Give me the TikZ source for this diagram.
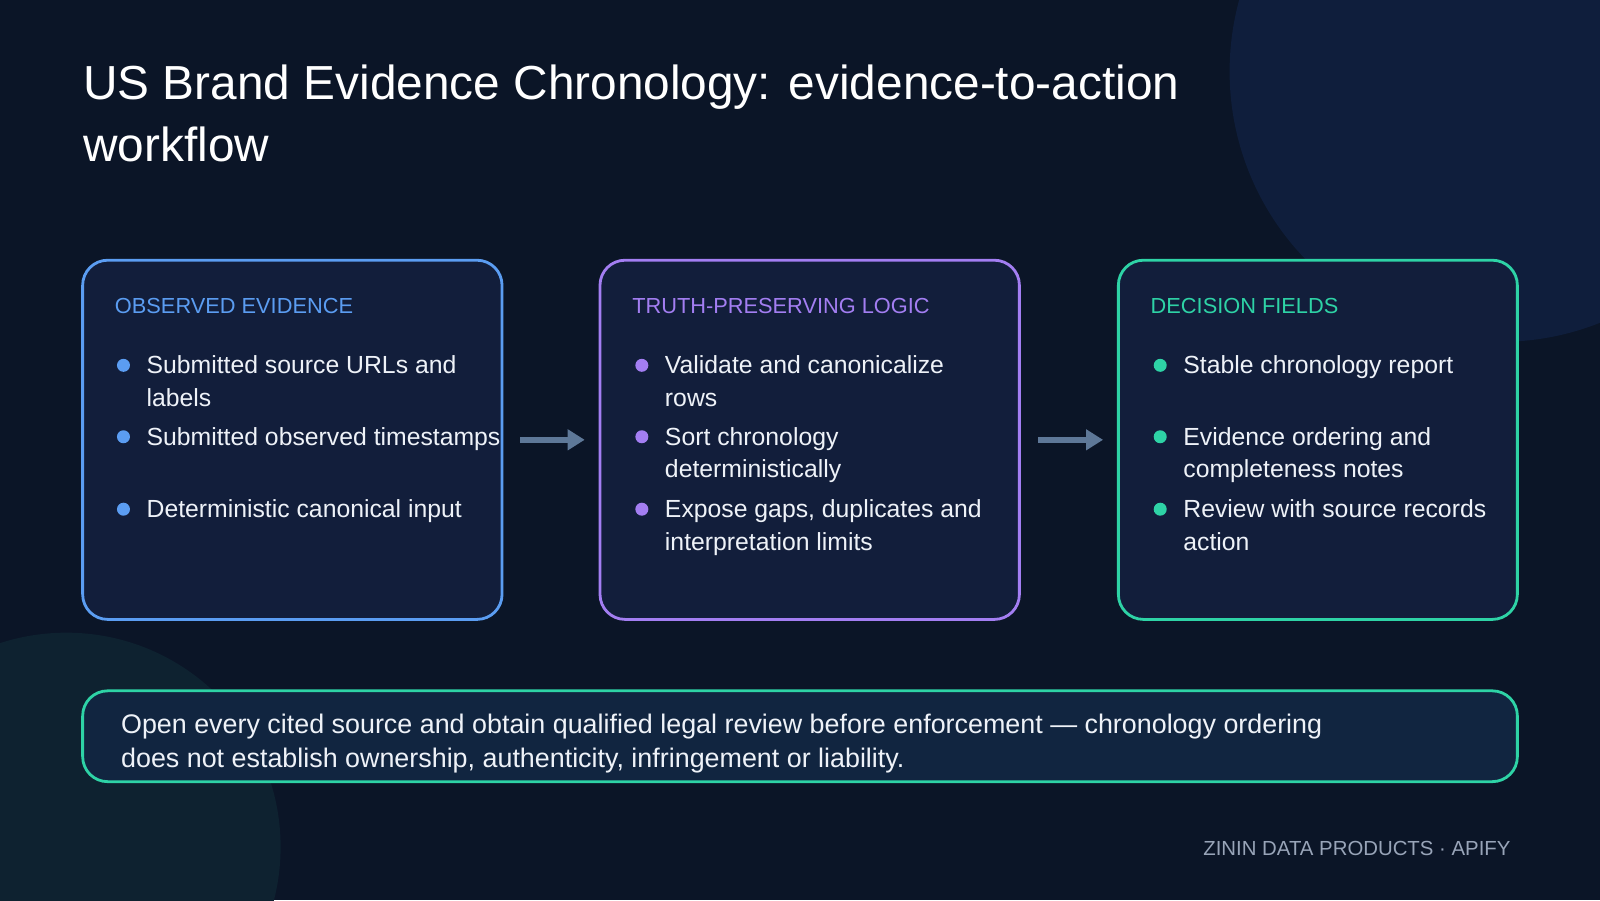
\documentclass[tikz,border=0pt]{standalone}
\usepackage{fontspec}
\setmainfont{Liberation Sans}
\usetikzlibrary{positioning,arrows.meta}
\definecolor{slatebg}{HTML}{0B1527}
\definecolor{slatebox}{HTML}{121E3B}
\definecolor{slateblue}{HTML}{5B9DF2}
\definecolor{slatepurple}{HTML}{A37EF2}
\definecolor{slateteal}{HTML}{2ED3A6}
\definecolor{slatetext}{HTML}{EEF2F8}
\definecolor{slatemuted}{HTML}{98A4B8}
\definecolor{slatearrow}{HTML}{5E7898}
\definecolor{slateglowA}{HTML}{0F1E3C}
\definecolor{slateglowB}{HTML}{0E2230}
\definecolor{slatenote}{HTML}{112540}
\tikzset{
  card/.style={line width=0.8pt, rounded corners=0.25cm, fill=slatebox},
  cardhead/.style={anchor=west, inner sep=0, font=\fontsize{6.2}{7.5}\selectfont},
  item/.style={anchor=north west, inner sep=0, align=left, text=slatetext, font=\fontsize{7.05}{9.3}\selectfont},
  dot/.style={circle, inner sep=0, minimum size=0.13cm},
  flow/.style={-{Triangle[length=0.17cm,width=0.2cm]}, line width=1.8pt, draw=slatearrow, fill=slatearrow}
}
\begin{document}
\begin{tikzpicture}[x=0.010204cm, y=-0.010204cm]
\useasboundingbox (0,0) rectangle (1568,882);
\fill[slatebg] (0,0) rectangle (1568,882);
\begin{scope}
\clip (0,0) rectangle (1568,882);
\fill[slateglowA] (1470,70) circle (265);
\fill[slateglowB] (65,830) circle (210);
\end{scope}

% title
\node[anchor=west, inner sep=0, align=left, text=white, font=\fontsize{13.6}{17.5}\selectfont] (title) at (81,111)
  {US Brand Evidence Chronology: evidence-to-action\\workflow};

% cards
\draw[card, draw=slateblue] (81,255) rectangle (492,607);
\draw[card, draw=slatepurple] (588,255) rectangle (999,607);
\draw[card, draw=slateteal] (1096,255) rectangle (1487,607);
\coordinate (c1) at (510,431);
\coordinate (c2) at (573,431);
\coordinate (c3) at (1017,431);
\coordinate (c4) at (1081,431);

\node[cardhead, text=slateblue] (head1) at (112,300) {OBSERVED EVIDENCE};
\node[cardhead, text=slatepurple] (head2) at (619,300) {TRUTH-PRESERVING LOGIC};
\node[cardhead, text=slateteal] (head3) at (1127,300) {DECISION FIELDS};

% items
\foreach \y/\txt [count=\i] in {358/{Submitted source URLs and\\labels}, 428/{Submitted observed timestamps}, 499/{Deterministic canonical input}} {
  \node[dot, fill=slateblue] (dotA\i) at (121,\y) {};
  \node[item] (itemA\i) at (143,\y-10) {\txt};
}
\foreach \y/\txt [count=\i] in {358/{Validate and canonicalize\\rows}, 428/{Sort chronology\\deterministically}, 499/{Expose gaps, duplicates and\\interpretation limits}} {
  \node[dot, fill=slatepurple] (dotB\i) at (629,\y) {};
  \node[item] (itemB\i) at (651,\y-10) {\txt};
}
\foreach \y/\txt [count=\i] in {358/{Stable chronology report}, 428/{Evidence ordering and\\completeness notes}, 499/{Review with source records\\action}} {
  \node[dot, fill=slateteal] (dotC\i) at (1137,\y) {};
  \node[item] (itemC\i) at (1159,\y-10) {\txt};
}

% arrows
\draw[flow] (c1) -- (c2);
\draw[flow] (c3) -- (c4);

% note
\draw[card, draw=slateteal, fill=slatenote] (81,677) rectangle (1487,766);
\node[anchor=west, inner sep=0, align=left, text=slatetext, font=\fontsize{7.65}{9.6}\selectfont] (note) at (118,729)
  {Open every cited source and obtain qualified legal review before enforcement — chronology ordering\\does not establish ownership, authenticity, infringement or liability.};

\node[anchor=east, inner sep=0, text=slatemuted, font=\fontsize{5.8}{7}\selectfont] (footer) at (1481,831) {ZININ DATA PRODUCTS · APIFY};
\end{tikzpicture}
\end{document}
